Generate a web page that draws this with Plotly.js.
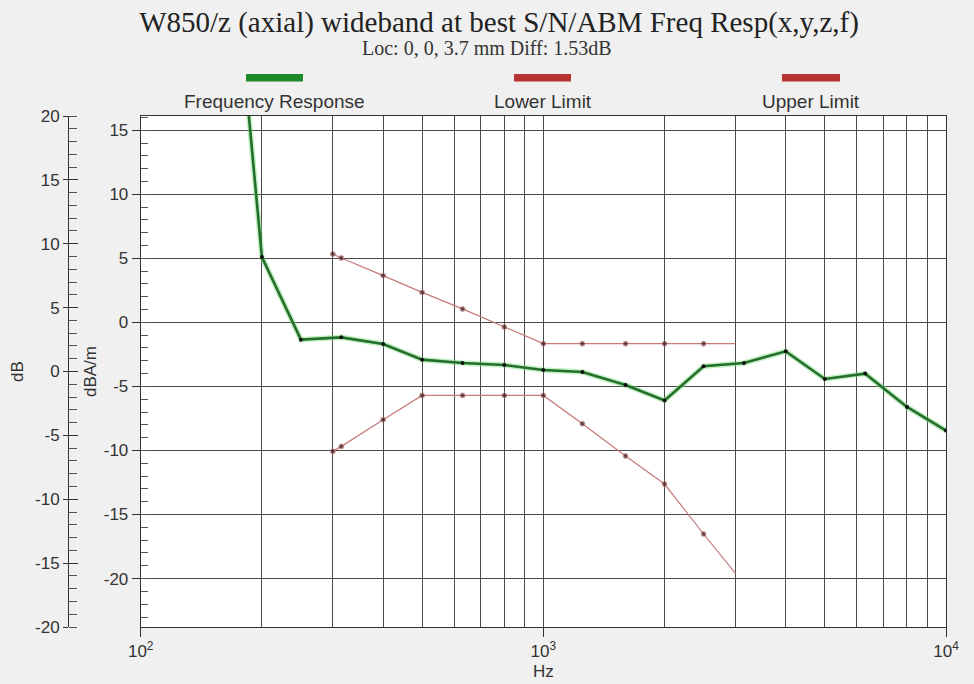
<!DOCTYPE html>
<html>
<head>
<meta charset="utf-8">
<script src="https://cdn.plot.ly/plotly-3.0.1.min.js"></script>
<style>html,body{margin:0;padding:0;background:#f0f0f0;}#chart{width:974px;height:684px;}</style>
</head>
<body>
<div id="chart"></div>
<script>
// ---- data ----
const respFreq = [160, 200, 250, 315, 400, 500, 630, 800, 1000, 1250, 1600, 2000, 2500, 3150, 4000, 5000, 6300, 8000, 10000];
const respVals = [38, 5.1, -1.35, -1.17, -1.69, -2.91, -3.17, -3.33, -3.72, -3.87, -4.89, -6.09, -3.43, -3.17, -2.26, -4.42, -4.0, -6.6, -8.45];
const limFreq = [300, 315, 400, 500, 630, 800, 1000, 1250, 1600, 2000, 2500, 3000];
const upperVals = [5.34, 5.03, 3.65, 2.34, 1.05, -0.36, -1.66, -1.66, -1.66, -1.66, -1.66, -1.66];
const lowerVals = [-10.07, -9.68, -7.6, -5.7, -5.7, -5.7, -5.7, -7.91, -10.43, -12.62, -16.52, -19.6];
const xTickVals = [100, 1000, 10000];
const xTickText = ['10<sup>2</sup>', '10<sup>3</sup>', '10<sup>4</sup>'];
const xMinorVals = [200, 300, 400, 500, 600, 700, 800, 900, 2000, 3000, 4000, 5000, 6000, 7000, 8000, 9000];
const yInnerTicks = [-20, -15, -10, -5, 0, 5, 10, 15];
const yInnerText = ['-20', '-15', '-10', '-5', '0', '5', '10', '15'];
const yOuterTicks = [-20, -15, -10, -5, 0, 5, 10, 15, 20];
const yOuterText = ['-20', '-15', '-10', '-5', '0', '5', '10', '15', '20'];
const seriesNames = ['Frequency Response', 'Lower Limit', 'Upper Limit'];
const titleText = 'W850/z (axial) wideband at best S/N/ABM Freq Resp(x,y,z,f)';
const subtitleText = 'Loc: 0, 0, 3.7 mm Diff: 1.53dB';

// ---- layout helpers ----
const W = 974, H = 684, L = 68, R = 28, T = 116, B = 57;
const pw = W - L - R, ph = H - T - B;
const px = x => (x - L) / pw;
const py = y => (H - B - y) / ph;
const sans = 'Liberation Sans, Arial, sans-serif';
const serif = 'Liberation Serif, Times New Roman, serif';
const textCol = '#333';
const gridCol = '#4a4a4a';

const limLine = '#c77a7a';
const limMarker = '#3a1a1a';
const endless = arr => arr.map((v, i) => i === arr.length - 1 ? 0 : 5);

const traces = [
  {x: respFreq, y: respVals, type: 'scatter', mode: 'lines', xaxis: 'x', yaxis: 'y',
   line: {color: 'rgba(120,220,120,0.45)', width: 5.5}, hoverinfo: 'skip', showlegend: false},
  {x: respFreq, y: respVals, type: 'scatter', mode: 'lines+markers', name: seriesNames[0],
   line: {color: '#246f2c', width: 2.6}, marker: {color: '#111', size: 4}},
  {x: limFreq, y: upperVals, type: 'scatter', mode: 'lines+markers', name: seriesNames[2],
   line: {color: limLine, width: 1.2}, marker: {color: limMarker, size: endless(upperVals)}},
  {x: limFreq, y: lowerVals, type: 'scatter', mode: 'lines+markers', name: seriesNames[1],
   line: {color: limLine, width: 1.2}, marker: {color: limMarker, size: endless(lowerVals)}},
  {x: [1000], y: [0], type: 'scatter', mode: 'markers', yaxis: 'y2', marker: {opacity: 0}, hoverinfo: 'skip', showlegend: false},
  {x: [1000], y: [0], type: 'scatter', mode: 'markers', yaxis: 'y3', marker: {opacity: 0}, hoverinfo: 'skip', showlegend: false}
];

const legendBars = [
  {x0: 246, x1: 303, color: '#1e8a2a', label: seriesNames[0]},
  {x0: 514, x1: 571, color: '#b83232', label: seriesNames[1]},
  {x0: 782, x1: 840, color: '#b83232', label: seriesNames[2]}
];

const shapes = legendBars.map(b => ({
  type: 'rect', xref: 'paper', yref: 'paper', x0: px(b.x0), x1: px(b.x1), y0: py(81.5), y1: py(74),
  fillcolor: b.color, line: {width: 0}
}));
const annotations = legendBars.map(b => ({
  xref: 'paper', yref: 'paper', x: px((b.x0 + b.x1) / 2), y: py(101.5), xanchor: 'center', yanchor: 'middle',
  text: b.label, showarrow: false, font: {family: sans, size: 19, color: textCol}
}));
annotations.push({
  xref: 'paper', yref: 'paper', x: px(487), y: py(48), xanchor: 'center', yanchor: 'middle',
  text: subtitleText, showarrow: false, font: {family: serif, size: 20, color: textCol}
});

const layout = {
  width: W, height: H,
  margin: {l: L, r: R, t: T, b: B, pad: 0},
  paper_bgcolor: '#f0f0f0', plot_bgcolor: '#ffffff',
  showlegend: false,
  title: {text: titleText, font: {family: serif, size: 29, color: '#222'},
          xref: 'container', yref: 'container', x: 499 / W, y: 1 - 22 / H, xanchor: 'center', yanchor: 'middle'},
  xaxis: {type: 'log', range: [2, 4], domain: [px(140.7), 1], anchor: 'y',
          tickmode: 'array', tickvals: xTickVals, ticktext: xTickText,
          ticks: 'outside', ticklen: 9, tickcolor: '#333', tickwidth: 1,
          showgrid: true, gridcolor: gridCol, gridwidth: 1,
          minor: {tickmode: 'array', tickvals: xMinorVals, showgrid: true, gridcolor: gridCol, gridwidth: 1, ticks: ''},
          showline: true, linecolor: '#333', linewidth: 1, mirror: true, zeroline: false,
          tickfont: {family: sans, size: 17, color: textCol},
          title: {text: 'Hz', font: {family: sans, size: 17, color: textCol}, standoff: 4},
          automargin: false},
  yaxis: {range: [-23.78, 16.11], anchor: 'x', side: 'left',
          tickmode: 'array', tickvals: yInnerTicks, ticktext: yInnerText,
          ticks: 'outside', ticklen: 8, tickcolor: '#333',
          minor: {tickmode: 'linear', dtick: 1, tick0: 0, ticks: 'inside', ticklen: 7, tickcolor: '#555', showgrid: false},
          showgrid: true, gridcolor: gridCol, gridwidth: 1, zeroline: false,
          showline: true, linecolor: '#333', linewidth: 1, mirror: true,
          tickfont: {family: sans, size: 17, color: textCol},
          title: {text: 'dBA/m', font: {family: sans, size: 17, color: textCol}, standoff: 2},
          automargin: false},
  yaxis2: {range: [-20, 20], overlaying: 'y', anchor: 'free', position: 0, side: 'left',
           tickmode: 'array', tickvals: yOuterTicks, ticktext: yOuterText,
           ticks: 'outside', ticklen: 5, tickcolor: '#333',
           minor: {tickmode: 'linear', dtick: 1, tick0: 0, ticks: 'inside', ticklen: 8, tickcolor: '#555', showgrid: false},
           showgrid: false, zeroline: false, showline: true, linecolor: '#333', linewidth: 1,
           tickfont: {family: sans, size: 17, color: textCol},
           title: {text: 'dB', font: {family: sans, size: 17, color: textCol}, standoff: 6},
           automargin: false},
  yaxis3: {range: [-20, 20], overlaying: 'y', anchor: 'free', position: 0, side: 'left',
           tickmode: 'linear', tick0: 0, dtick: 5, ticks: 'inside', ticklen: 9, tickcolor: '#333',
           showticklabels: false, showgrid: false, zeroline: false, showline: false, automargin: false},
  shapes: shapes,
  annotations: annotations
};

Plotly.newPlot('chart', traces, layout, {staticPlot: true, displayModeBar: false});
</script>
</body>
</html>
